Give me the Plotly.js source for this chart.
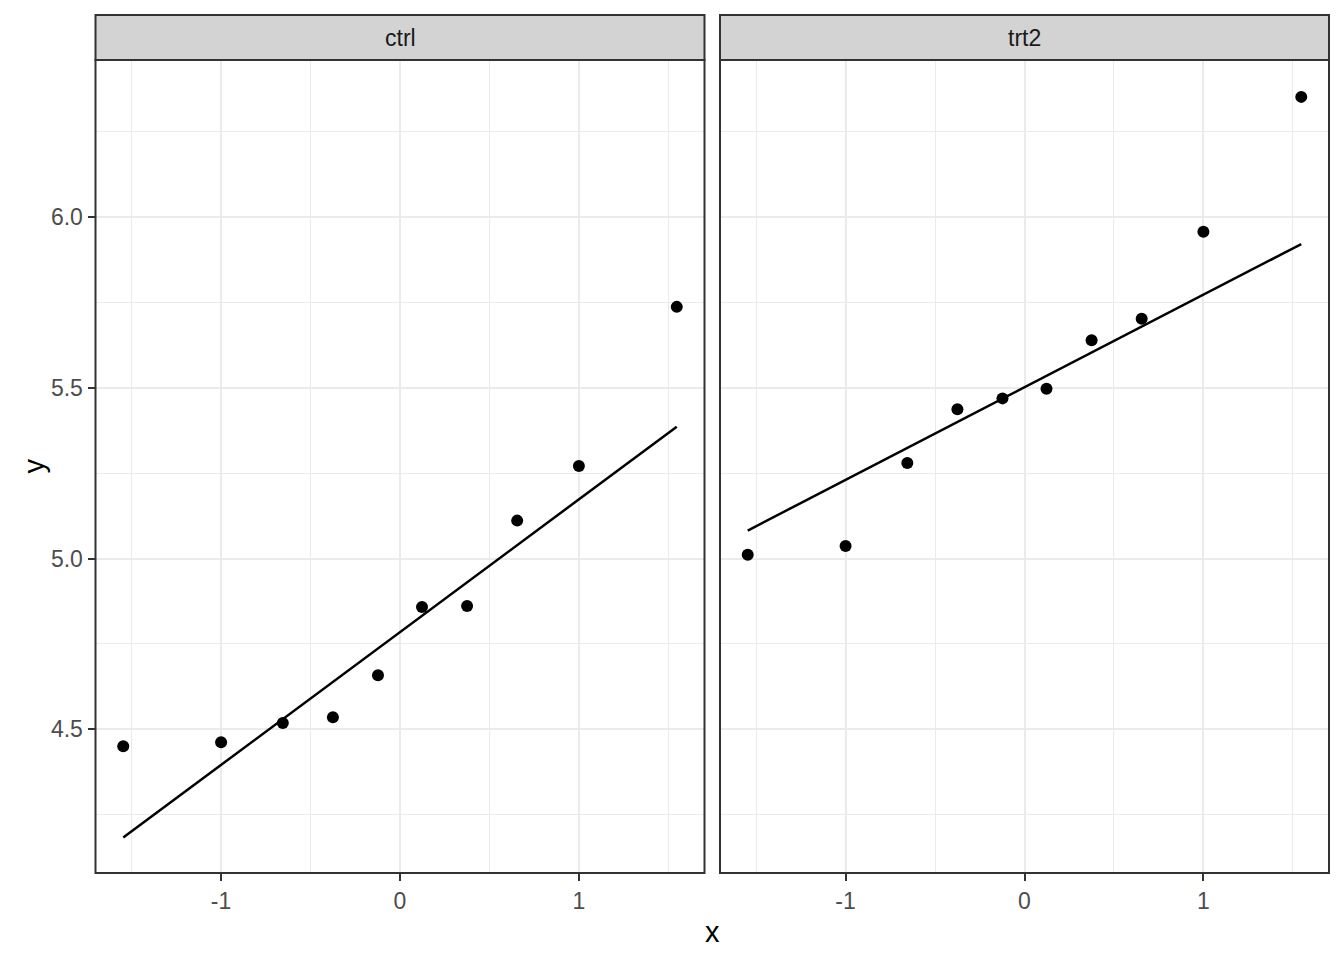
<!DOCTYPE html>
<html>
<head>
<meta charset="utf-8">
<script src="https://cdn.plot.ly/plotly-3.0.1.min.js"></script>
<style>
  html, body { margin: 0; padding: 0; background: #ffffff; }
  #chart { width: 1344px; height: 960px; }
</style>
</head>
<body>
<div id="chart"></div>
<script>
// Theoretical normal quantiles (x) shared by both panels
const theoretical = [-1.547, -1.000, -0.655, -0.375, -0.123, 0.123, 0.375, 0.655, 1.000, 1.547];
// Sample values (y) per panel
const ctrlValues = [4.450, 4.462, 4.518, 4.535, 4.658, 4.858, 4.861, 5.111, 5.271, 5.737];
const trt2Values = [5.011, 5.037, 5.280, 5.437, 5.469, 5.497, 5.639, 5.702, 5.957, 6.352];
// Reference line end points per panel
const lineX = [-1.547, 1.547];
const ctrlLine = [4.183, 5.386];
const trt2Line = [5.082, 5.921];
// Panel labels and tick labels
const panels = ["ctrl", "trt2"];
const xTickVals = [-1, 0, 1];
const xTickText = ["-1", "0", "1"];
const yTickVals = [4.5, 5.0, 5.5, 6.0];
const yTickText = ["4.5", "5.0", "5.5", "6.0"];

const W = 1344, H = 960;
const px = v => v / W;
const py = v => 1 - v / H;

const panelX = [[95.5, 704.5], [720, 1329]];
const plotTop = 60, plotBottom = 873, stripTop = 15;

const FONT = "Liberation Sans, Arial, Helvetica, sans-serif";
const gridCol = "#EBEBEB";
const borderCol = "#333333";

const pointStyle = { color: "#000000", size: 12, line: { width: 0 } };
const lineStyle = { color: "#000000", width: 2.5 };

const traces = [
  { x: theoretical, y: ctrlValues, type: "scatter", mode: "markers", marker: pointStyle, xaxis: "x", yaxis: "y", showlegend: false },
  { x: lineX, y: ctrlLine, type: "scatter", mode: "lines", line: lineStyle, xaxis: "x", yaxis: "y", showlegend: false },
  { x: theoretical, y: trt2Values, type: "scatter", mode: "markers", marker: pointStyle, xaxis: "x2", yaxis: "y2", showlegend: false },
  { x: lineX, y: trt2Line, type: "scatter", mode: "lines", line: lineStyle, xaxis: "x2", yaxis: "y2", showlegend: false }
];

const xRange = [-1.702, 1.702];
const yRange = [4.079, 6.460];

function xAxis(domain) {
  return {
    domain: domain, range: xRange, autorange: false,
    tickmode: "array", tickvals: xTickVals, ticktext: xTickText,
    ticks: "outside", ticklen: 7, tickwidth: 2, tickcolor: borderCol,
    tickfont: { family: FONT, size: 23, color: "#4D4D4D" },
    showgrid: true, gridcolor: gridCol, gridwidth: 2,
    minor: { dtick: 0.5, tick0: 0.5, showgrid: true, gridcolor: gridCol, gridwidth: 1 },
    zeroline: false, showline: false, automargin: false, fixedrange: true
  };
}
function yAxis(domain, anchor, labels) {
  return {
    domain: domain, range: yRange, autorange: false, anchor: anchor,
    tickmode: "array", tickvals: yTickVals, ticktext: yTickText,
    ticks: labels ? "outside" : "", ticklen: 7, tickwidth: 2, tickcolor: borderCol,
    showticklabels: labels,
    tickfont: { family: FONT, size: 23, color: "#4D4D4D" },
    showgrid: true, gridcolor: gridCol, gridwidth: 2,
    minor: { dtick: 0.5, tick0: 4.25, showgrid: true, gridcolor: gridCol, gridwidth: 1 },
    zeroline: false, showline: false, automargin: false, fixedrange: true
  };
}

const yDom = [py(plotBottom), py(plotTop)];
const shapes = [];
const annotations = [];
panels.forEach((name, i) => {
  const [a, b] = panelX[i];
  shapes.push({ type: "rect", xref: "paper", yref: "paper", x0: px(a), x1: px(b), y0: py(plotTop), y1: py(stripTop),
    fillcolor: "#D3D3D3", line: { color: borderCol, width: 2 }, layer: "above" });
  shapes.push({ type: "rect", xref: "paper", yref: "paper", x0: px(a), x1: px(b), y0: py(plotBottom), y1: py(plotTop),
    fillcolor: "rgba(0,0,0,0)", line: { color: borderCol, width: 2 }, layer: "above" });
  annotations.push({ text: name, xref: "paper", yref: "paper", x: px((a + b) / 2), y: py((plotTop + stripTop) / 2),
    xanchor: "center", yanchor: "middle", showarrow: false,
    font: { family: FONT, size: 23, color: "#1A1A1A" } });
});
annotations.push({ text: "x", xref: "paper", yref: "paper", x: px((95.5 + 1329) / 2), y: py(932),
  xanchor: "center", yanchor: "middle", showarrow: false, font: { family: FONT, size: 29, color: "#000000" } });
annotations.push({ text: "y", xref: "paper", yref: "paper", x: px(33), y: py((plotTop + plotBottom) / 2),
  xanchor: "center", yanchor: "middle", textangle: -90, showarrow: false, font: { family: FONT, size: 29, color: "#000000" } });

const layout = {
  width: W, height: H,
  margin: { l: 0, r: 0, t: 0, b: 0, pad: 0 },
  paper_bgcolor: "#FFFFFF", plot_bgcolor: "#FFFFFF",
  showlegend: false,
  xaxis: xAxis([px(panelX[0][0]), px(panelX[0][1])]),
  xaxis2: Object.assign(xAxis([px(panelX[1][0]), px(panelX[1][1])]), { anchor: "y2" }),
  yaxis: yAxis(yDom, "x", true),
  yaxis2: yAxis(yDom, "x2", false),
  shapes: shapes,
  annotations: annotations
};
layout.xaxis.anchor = "y";

Plotly.newPlot("chart", traces, layout, { staticPlot: true, displayModeBar: false });
</script>
</body>
</html>
